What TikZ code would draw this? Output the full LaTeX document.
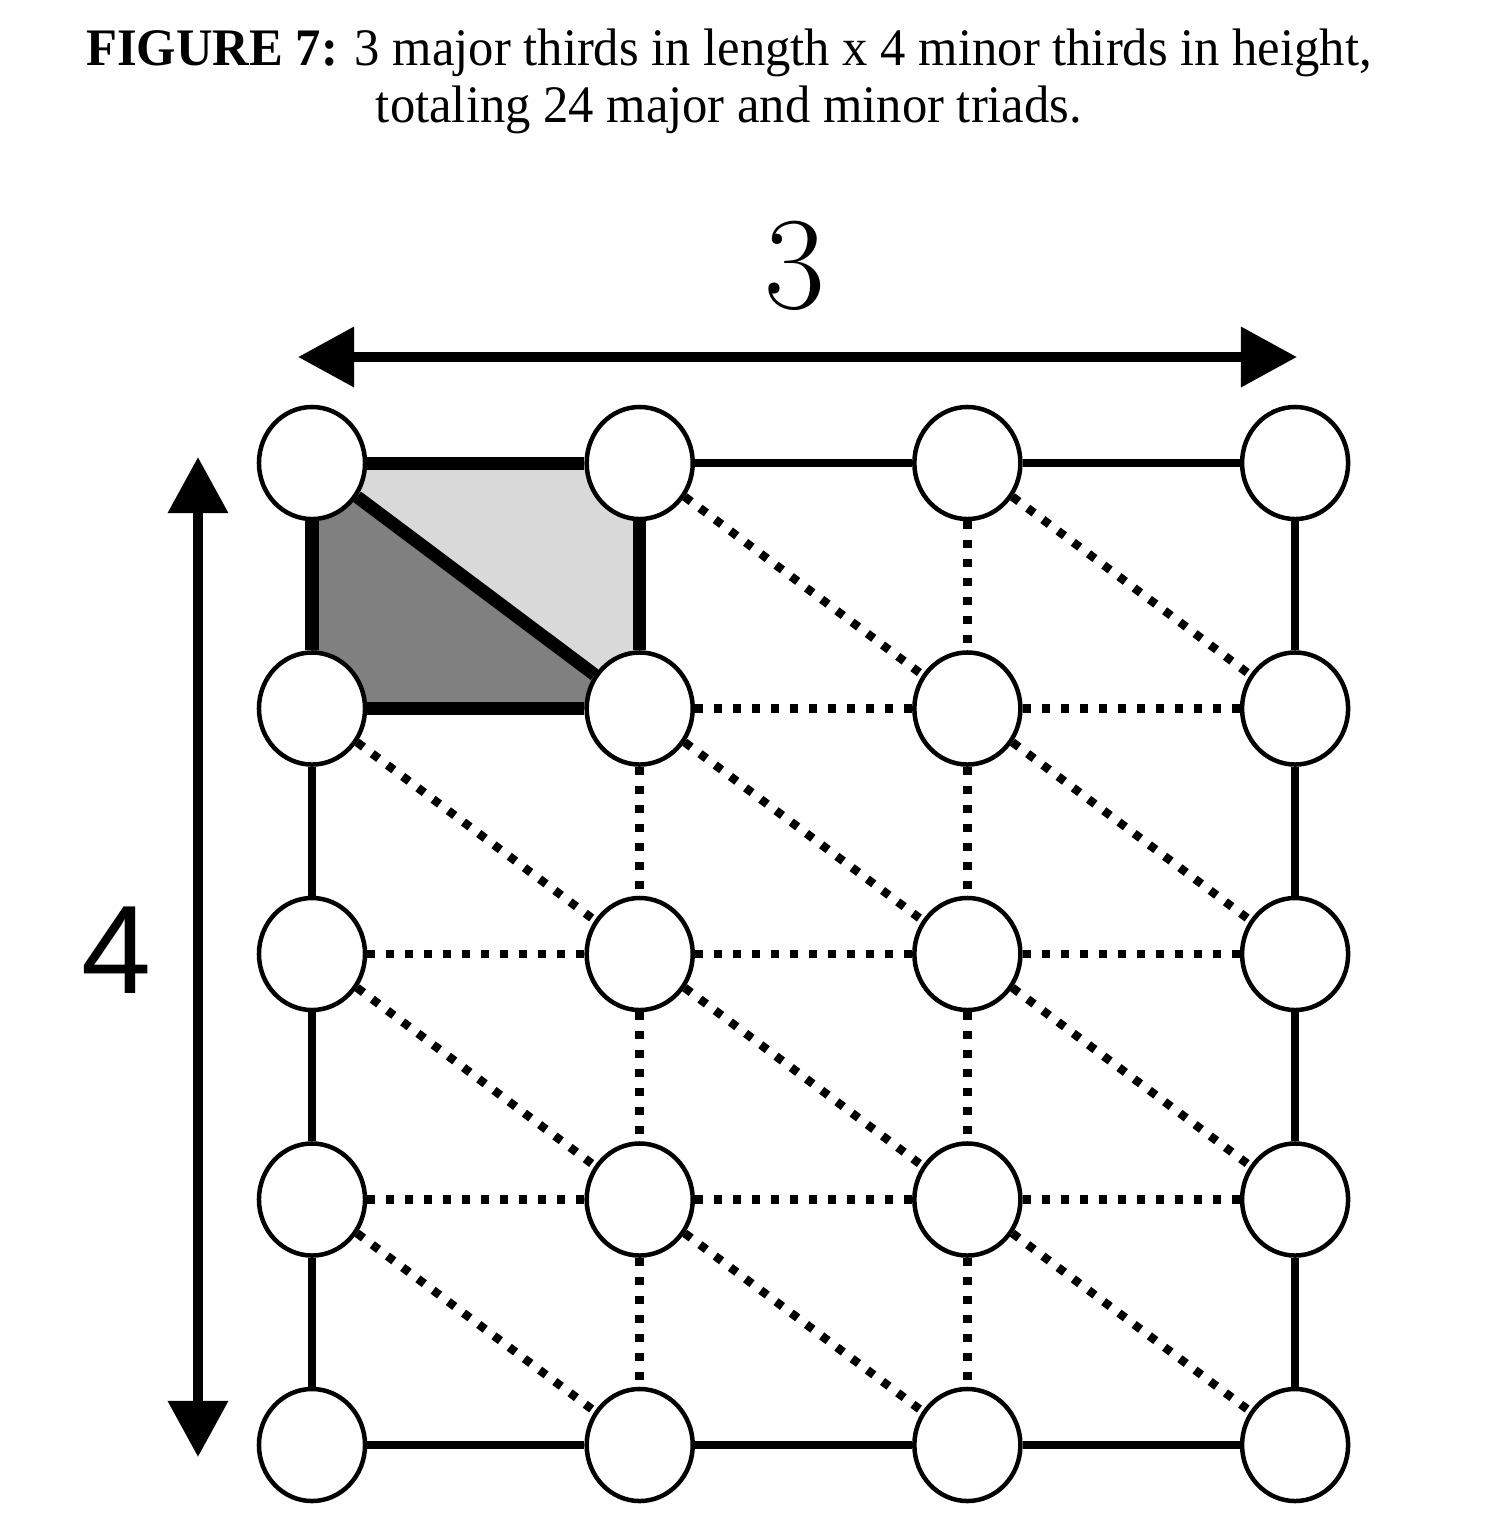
\documentclass[tikz,border=0pt]{standalone}
\usepackage{fontspec}
\setmainfont{Liberation Serif}
\newfontfamily\labelsans{Liberation Sans}
\usetikzlibrary{arrows.meta,shapes.geometric}

\begin{document}
\begin{tikzpicture}[x=0.01cm, y=-0.01cm,
    >={Triangle[length=0.56cm, width=0.58cm]},
    tone/.style={ellipse, draw, fill=white, line width=0.045cm,
      minimum width=1.06cm, minimum height=1.12cm, inner sep=0pt},
    thirdline/.style={line width=0.08cm},
    dotline/.style={line width=0.085cm, dash pattern=on 0.08cm off 0.11cm},
    triadline/.style={line width=0.13cm}]
    \definecolor{majorgray}{RGB}{217,217,217}
    \definecolor{minorgray}{RGB}{128,128,128}

    \useasboundingbox (0,0) rectangle (1510,1532);

    % caption
    \node[anchor=base, font=\fontsize{15pt}{16pt}\selectfont] (cap-1) at (729,65)
      {\scalebox{0.96}[1]{\textbf{FIGURE 7:} 3 major thirds in length x 4 minor thirds in height,}};
    \node[anchor=base, font=\fontsize{15pt}{16pt}\selectfont] (cap-2) at (729,122)
      {\scalebox{0.96}[1]{totaling 24 major and minor triads.}};

    % grid positions
    \foreach \r in {0,...,4}
      \foreach \c in {0,...,3}
        \coordinate (p-\r-\c) at ({312+327.7*\c},{463+245.5*\r});

    % the two shaded triads
    \fill[majorgray] (p-0-0) -- (p-0-1) -- (p-1-1) -- cycle;
    \fill[minorgray] (p-0-0) -- (p-1-0) -- (p-1-1) -- cycle;

    % tones
    \foreach \r in {0,...,4}
      \foreach \c in {0,...,3}
        \node[tone] (n-\r-\c) at (p-\r-\c) {};

    % outer frame
    \foreach \a/\b in {0-1/0-2, 0-2/0-3, 4-0/4-1, 4-1/4-2, 4-2/4-3,
                       1-0/2-0, 2-0/3-0, 3-0/4-0,
                       0-3/1-3, 1-3/2-3, 2-3/3-3, 3-3/4-3}
      \draw[thirdline] (n-\a) -- (n-\b);

    % dotted thirds
    \foreach \a/\b in {1-1/1-2, 1-2/1-3, 2-0/2-1, 2-1/2-2, 2-2/2-3, 3-0/3-1, 3-1/3-2, 3-2/3-3,
                       1-1/2-1, 2-1/3-1, 3-1/4-1, 0-2/1-2, 1-2/2-2, 2-2/3-2, 3-2/4-2}
      \draw[dotline] (n-\a) -- (n-\b);

    % dotted diagonals
    \foreach \a/\b in {0-1/1-2, 0-2/1-3, 1-0/2-1, 1-1/2-2, 1-2/2-3,
                       2-0/3-1, 2-1/3-2, 2-2/3-3, 3-0/4-1, 3-1/4-2, 3-2/4-3}
      \draw[dotline] (n-\a) -- (n-\b);

    % borders of the shaded cell
    \foreach \a/\b in {0-0/0-1, 0-1/1-1, 1-0/1-1, 0-0/1-0, 0-0/1-1}
      \draw[triadline] (n-\a) -- (n-\b);

    % size arrows
    \coordinate (len-l) at (298,357);
    \coordinate (len-r) at (1297,357);
    \draw[<->, line width=0.1cm] (len-l) -- (len-r);
    \node[font=\fontfamily{lmr}\fontsize{37.6pt}{40pt}\selectfont] (len-num) at (795,266) {3};

    \coordinate (hgt-t) at (198,457);
    \coordinate (hgt-b) at (198,1457);
    \draw[<->, line width=0.1cm] (hgt-t) -- (hgt-b);
    \node[font=\labelsans\fontsize{35.8pt}{38pt}\selectfont] (hgt-num) at (117,950) {4};
\end{tikzpicture}
\end{document}
